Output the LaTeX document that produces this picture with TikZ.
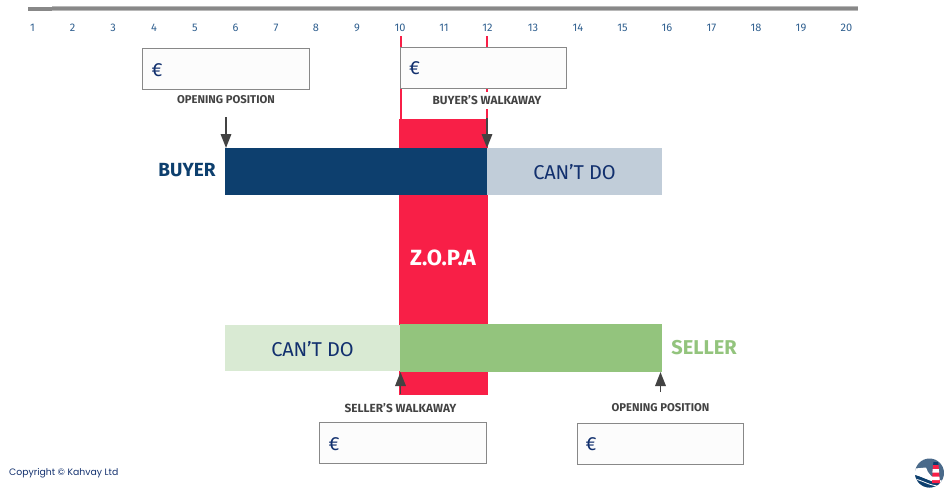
\documentclass[tikz,border=0pt]{standalone}
\usepackage{fontspec}
\setmainfont{Fira Sans}
\newfontfamily\copyfont{Poppins}
\usetikzlibrary{arrows.meta}
\definecolor{navy}{HTML}{0D3F6E}
\definecolor{paleblue}{HTML}{C1CDD9}
\definecolor{zred}{HTML}{F81F47}
\definecolor{green1}{HTML}{93C47D}
\definecolor{green2}{HTML}{D9EAD3}
\definecolor{ticktxt}{HTML}{2F5F8F}
\definecolor{dk}{HTML}{434343}
\definecolor{rulegr}{HTML}{888888}
\definecolor{txtblue}{HTML}{12306E}
\definecolor{logotop}{HTML}{4A6A8A}
\tikzset{
  x=1pt,y=-1pt,
  bar/.style={anchor=north west,inner sep=0pt,outer sep=0pt,minimum height=#1},
  ticknum/.style={font=\fontsize{11}{12}\selectfont,text=ticktxt,inner sep=0pt},
  pricebox/.style={draw=rulegr,line width=1pt,fill=white!99!black,anchor=north west,inner sep=0pt,outer sep=0pt,minimum width=167pt,minimum height=41pt},
  euro/.style={font=\fontsize{19}{20}\selectfont,text=txtblue,inner sep=0pt},
  captxt/.style={font=\fontsize{11.3}{12}\selectfont\bfseries,text=dk,inner sep=0pt},
  walktxt/.style={font=\fontsize{11.8}{12}\selectfont\bfseries,text=dk,inner sep=0pt},
  cant/.style={font=\fontsize{20}{24}\selectfont\addfontfeature{LetterSpace=-1},text=txtblue,inner sep=0pt},
  pointer/.style={draw=dk,line width=1.7pt,-{Triangle[length=14pt,width=10.5pt]},shorten >=0pt},
  redline/.style={draw=zred,line width=1.8pt}
}
\begin{document}
\begin{tikzpicture}
\useasboundingbox (0,0) rectangle (950,493);
% top rule
\fill[rulegr!60] (52,6.3) rectangle (858,10.5);
\fill[rulegr] (52,7.2) rectangle (858,9.7);
\fill[rulegr] (28,6.8) rectangle (52,10.5);
% scale
\foreach \n/\xx in {1/32.5,2/72.5,3/113,4/154,5/195,6/235.5,7/276,8/316,9/357,10/400,11/444,12/487.5,13/533,14/578,15/622.5,16/667,17/711.5,18/756,19/801,20/846.5}
  \node[ticknum] (t\n) at (\xx,28) {\n};
% red region
\node[bar=276pt,fill=zred,minimum width=89pt] (zopa) at (399,119) {};
\draw[redline] (400.6,36) -- (400.6,119);
\draw[redline] (487.2,36) -- (487.2,119);
% bars
\node[bar=47pt,fill=navy,minimum width=262pt] (buyerbar) at (225,148) {};
\node[bar=47pt,fill=paleblue,minimum width=175pt] (buyerno) at (487,148) {};
\node[bar=46pt,fill=green2,minimum width=175pt] (sellerno) at (225,325) {};
\node[bar=48pt,fill=green1,minimum width=262pt] (sellerbar) at (400,324) {};
% texts on bars
\node[cant] at (574.5,172.5) {CAN’T DO};
\node[cant] at (312.5,349.5) {CAN’T DO};
\node[inner sep=0pt,text=white,font=\fontsize{22}{24}\selectfont\bfseries] at (443,258) {Z.O.P.A};
\node[inner sep=0pt,text=navy,font=\fontsize{19}{22}\selectfont\bfseries] (buyer) at (187,170.5) {BUYER};
\node[inner sep=0pt,text=green1,font=\fontsize{20}{22}\selectfont\bfseries] (seller) at (704,347.5) {SELLER};
% price boxes
\node[pricebox] (b1) at (142.5,48.5) {};
\node[pricebox,minimum width=166pt] (b2) at (400.5,47.5) {};
\node[pricebox] (b3) at (319.5,422.5) {};
\node[pricebox,minimum width=166pt] (b4) at (577.5,423.5) {};
\node[euro] at (157,70) {€};
\node[euro] at (414.5,68.5) {€};
\node[euro] at (334,444) {€};
\node[euro] at (591,444) {€};
% captions
\node[captxt] (c1) at (226,99.5) {OPENING POSITION};
\node[walktxt,fill=white,inner xsep=1pt,inner ysep=4pt] (c2) at (487,100.5) {BUYER’S WALKAWAY};
\node[walktxt] (c3) at (400.5,408) {SELLER’S WALKAWAY};
\node[captxt] (c4) at (660.5,408) {OPENING POSITION};
% pointers
\coordinate (p1) at (226,117);
\coordinate (p1e) at (226,148);
\coordinate (p2) at (487,118);
\coordinate (p2e) at (487,148);
\coordinate (p3) at (400.5,394);
\coordinate (p3e) at (400.5,372);
\coordinate (p4) at (660.5,392);
\coordinate (p4e) at (660.5,372);
\draw[pointer] (p1) -- (p1e);
\draw[pointer] (p2) -- (p2e);
\draw[pointer] (p3) -- (p3e);
\draw[pointer] (p4) -- (p4e);
% copyright
\node[anchor=west,inner sep=0pt,text=txtblue,font=\copyfont\fontsize{9.3}{10}\selectfont] at (9,473) {Copyright © Kahvay Ltd};
% logo
\begin{scope}
\clip (929.5,473) circle (14.5);
\fill[logotop] (915,458) rectangle (944,488);
\fill[white] (915,468.5) -- (926,467.5) .. controls (928,474) and (932,479) .. (944,481) -- (944,484) .. controls (932,483) and (925,478) .. (915,475) -- cycle;
\fill[navy] (915,475) .. controls (925,478) and (932,483) .. (944,484) -- (944,488) -- (915,488) -- cycle;
\draw[white,line width=.8pt] (915,479) .. controls (924,481) and (930,486) .. (940,486);
\end{scope}
\fill[navy] (933.5,462) -- (938,462) -- (938.5,465) -- (933,465) -- cycle;
\fill[zred] (933,465) -- (938.5,465) -- (940,483) -- (932,483) -- cycle;
\fill[white] (932.7,469) -- (938.8,469) -- (939.1,472.5) -- (932.4,472.5) -- cycle;
\fill[white] (932.1,476.5) -- (939.4,476.5) -- (939.7,480) -- (931.8,480) -- cycle;
\end{tikzpicture}
\end{document}
